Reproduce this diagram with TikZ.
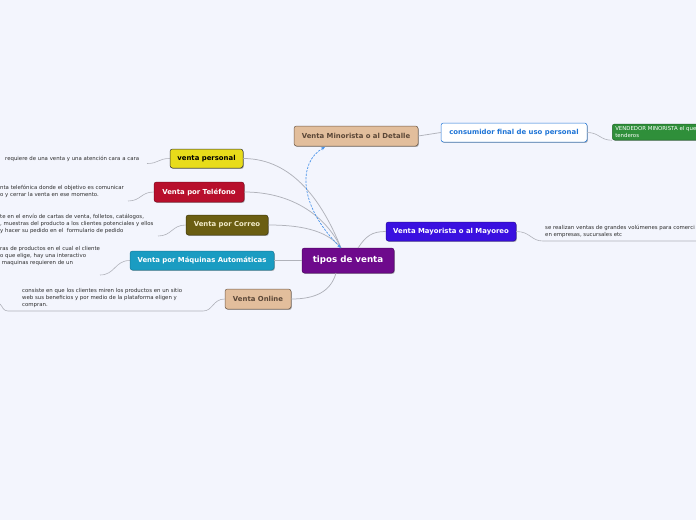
\documentclass[tikz,border=0pt]{standalone}
\usepackage{fontspec}
\setmainfont{DejaVu Sans}
\usetikzlibrary{shadows,arrows.meta}
\definecolor{bg}{HTML}{F3F5FD}
\definecolor{link}{HTML}{B0B2BA}
\definecolor{cpurple}{HTML}{6E0A8C}
\definecolor{ctan}{HTML}{E2BE9C}
\definecolor{ctanline}{HTML}{6E5A48}
\definecolor{ctantext}{HTML}{5A4636}
\definecolor{cblue}{HTML}{1E74D6}
\definecolor{cgreen}{HTML}{2F8F3A}
\definecolor{cmay}{HTML}{3A10E0}
\definecolor{cyellow}{HTML}{E8DC1A}
\definecolor{cred}{HTML}{B80F2C}
\definecolor{colive}{HTML}{6B5E12}
\definecolor{colivetext}{HTML}{F2EBC8}
\definecolor{cteal}{HTML}{1A9CC2}
\definecolor{dtext}{HTML}{2E2E2E}
\definecolor{dashblue}{HTML}{4A94EA}
\begin{document}
\begin{tikzpicture}[x=1pt,y=-1pt,
  topic/.style={rounded corners=2.5pt, line width=0.5pt, inner sep=0pt,
    font=\bfseries\fontsize{6.9}{8}\selectfont,
    drop shadow={shadow xshift=0.8pt, shadow yshift=-0.9pt, opacity=.3, fill=black}},
  desc/.style={font=\fontsize{5.4}{7}\selectfont, text=dtext, align=left, inner sep=0pt},
  conn/.style={draw=link, line width=0.75pt},
  dconn/.style={draw=link, line width=0.6pt},
  relation/.style={draw=dashblue, line width=0.7pt, dash pattern=on 2.2pt off 1.3pt}]
\useasboundingbox (0,0) rectangle (696,520);
\clip (0,0) rectangle (696,520);
\fill[bg] (0,0) rectangle (696,520);

% main nodes
\node[topic, fill=cpurple, draw=cpurple!70!black, text=white, minimum width=92pt, minimum height=25pt,
  font=\bfseries\fontsize{8.7}{10}\selectfont] (center) at (348,260.5) {tipos de venta};
\node[topic, fill=ctan, draw=ctanline, text=ctantext, minimum width=124pt, minimum height=20pt] (minorista) at (356,136) {Venta Minorista o al Detalle};
\node[topic, fill=white, draw=cblue, text=cblue, minimum width=146pt, minimum height=19pt] (consumidor) at (514,132.5) {consumidor final de uso personal};
\node[topic, fill=cgreen, draw=cgreen!70!black, text=white, anchor=west, minimum height=16pt,
  font=\fontsize{5.4}{6.6}\selectfont, align=left, text width=124pt, inner xsep=3pt] (green) at (612,132) {VENDEDOR MINORISTA el que\\tenderos};
\node[topic, fill=cmay, draw=cmay!70!black, text=white, minimum width=130pt, minimum height=19pt] (mayorista) at (451,231.5) {Venta Mayorista o al Mayoreo};
\node[topic, fill=cyellow, draw=black!80, text=black, minimum width=73pt, minimum height=19pt] (personal) at (206.5,158.5) {venta personal};
\node[topic, fill=cred, draw=cred!70!black, text=white, minimum width=90pt, minimum height=20pt] (telefono) at (199,192) {Venta por Teléfono};
\node[topic, fill=colive, draw=colive!60!black, text=colivetext, minimum width=82pt, minimum height=20pt] (correo) at (227,225) {Venta por Correo};
\node[topic, fill=cteal, draw=cteal!80!black, text=white, minimum width=144pt, minimum height=19pt] (maquinas) at (202,260.5) {Venta por Máquinas Automáticas};
\node[topic, fill=ctan, draw=ctanline, text=ctantext, minimum width=66pt, minimum height=20pt] (online) at (258,299) {Venta Online};

% descriptions
\node[desc, anchor=north west] (dpersonal) at (5,155.5) {requiere de una venta y una atención cara a cara};
\node[desc, anchor=north west] (dtelefono) at (0,184.5) {nta telefónica donde el objetivo es comunicar\\o y cerrar la venta en ese momento.};
\node[desc, anchor=north west] (dcorreo) at (0,214) {te en el envío de cartas de venta, folletos, catálogos,\\, muestras del producto a los clientes potenciales y ellos\\y hacer su pedido en el\ \ formulario de pedido};
\node[desc, anchor=north west] (dmaquinas) at (0,246.5) {ras de productos en el cual el cliente\\o que elige, hay una interactivo\\\ maquinas requieren de un};
\node[desc, anchor=north west] (donline) at (22,288.5) {consiste en que los clientes miren los productos en un sitio\\web sus beneficios y por medio de la plataforma eligen y\\compran.};
\node[desc, anchor=north west] (dmayorista) at (545,224.5) {se realizan ventas de grandes volúmenes para comerci\\en empresas, sucursales etc};

% coordinates
\coordinate (hub) at (341,248);
\coordinate (hubS) at (336,273);
\coordinate (hubR) at (358,248);
\coordinate (epersonal) at (147,163.5);
\coordinate (etelefono) at (128,201);
\coordinate (ecorreo) at (158,236);
\coordinate (emaquinas) at (100,275);
\coordinate (eonline1) at (203,311);
\coordinate (eonline2) at (8,311);
\coordinate (eonline3) at (0,304);
\coordinate (emay1) at (543,241);
\coordinate (emay2) at (696,241);
\coordinate (rtop) at (325,147);

% connectors from center
\draw[conn] (personal.east) .. controls +(50,0) and +(-18,-45) .. (hub);
\draw[conn] (telefono.east) .. controls +(50,0) and +(-14,-30) .. (hub);
\draw[conn] (correo.east) .. controls +(40,0) and +(-12,-15) .. (hub);
\draw[conn] (maquinas.east) -- (center.west);
\draw[conn] (hubS) .. controls +(-5,18) and +(25,0) .. (online.east);
\draw[conn] (hubR) .. controls +(8,-12) and +(-14,0) .. (mayorista.west);
\draw[conn] (minorista.east) -- (consumidor.west);
\draw[dconn] (consumidor.east) .. controls +(12,0) and +(-12,0) .. (green.south west);

% description connectors
\draw[dconn] (personal.west) .. controls +(-12,0) and +(12,0) .. (epersonal);
\draw[dconn] (telefono.west) .. controls +(-13,0) and +(13,0) .. (etelefono);
\draw[dconn] (correo.west) .. controls +(-14,0) and +(14,0) .. (ecorreo);
\draw[dconn] (maquinas.west) .. controls +(-15,0) and +(15,0) .. (emaquinas);
\draw[dconn] (online.west) .. controls +(-12,0) and +(10,0) .. (eonline1) -- (eonline2) .. controls +(-5,0) and +(3,3) .. (eonline3);
\draw[dconn] (mayorista.east) .. controls +(14,0) and +(-12,0) .. (emay1) -- (emay2);

% dashed relation
\draw[relation, {Stealth[length=3.8pt,width=3.2pt]}-{Stealth[length=3.8pt,width=3.2pt]}]
  (rtop) .. controls (298,162) and (298,205) .. (hub);
\end{tikzpicture}
\end{document}
